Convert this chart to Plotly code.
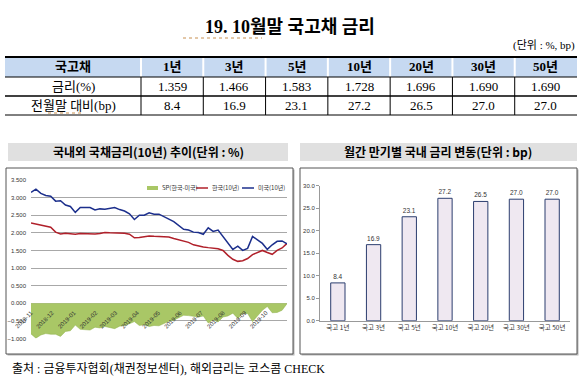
import plotly.graph_objects as go
import pandas as pd

W, H = 580, 384
def px(x): return x / W
def py(y): return 1 - y / H

SERIF = "Liberation Serif, Noto Sans CJK KR"
SANS = "Noto Sans CJK KR"

# ---------------- table data ----------------
table_head = ['국고채', '1년', '3년', '5년', '10년', '20년', '30년', '50년']
row_labels = ['금리(%)', '전월말 대비(bp)']
rates = [1.359, 1.466, 1.583, 1.728, 1.696, 1.690, 1.690]
bp_change = [8.4, 16.9, 23.1, 27.2, 26.5, 27.0, 27.0]

# ---------------- bar chart data ----------------
bar_cats = ['국고 1년', '국고 3년', '국고 5년', '국고 10년', '국고 20년', '국고 30년', '국고 50년']
bar_vals = [8.4, 16.9, 23.1, 27.2, 26.5, 27.0, 27.0]

# ---------------- line chart data (weekly) ----------------
series_names = ['SP(한국-미국)', '한국(10년)', '미국(10년)']
dates = pd.date_range('2018-11-01', periods=53, freq='7D')
us_10y = [3.15, 3.24, 3.12, 3.06, 3.04, 2.90, 2.91, 2.79, 2.75, 2.58,
          2.72, 2.73, 2.72, 2.65, 2.68, 2.67, 2.69, 2.72, 2.66, 2.62,
          2.54, 2.38, 2.50, 2.50, 2.57, 2.53, 2.53, 2.45, 2.39, 2.32,
          2.21, 2.10, 2.08, 2.02, 2.01, 1.96, 2.14, 2.04, 2.08, 1.89,
          1.72, 1.53, 1.62, 1.50, 1.56, 1.90, 1.80, 1.70, 1.53, 1.66,
          1.76, 1.77, 1.69]
kr_10y = [2.28, 2.25, 2.22, 2.20, 2.16, 2.02, 1.97, 1.99, 1.97, 1.96,
          1.98, 1.97, 1.96, 1.97, 1.98, 2.01, 2.00, 2.00, 2.01, 1.99,
          1.96, 1.86, 1.87, 1.89, 1.91, 1.90, 1.89, 1.87, 1.88, 1.84,
          1.80, 1.76, 1.73, 1.66, 1.62, 1.60, 1.58, 1.57, 1.55, 1.50,
          1.36, 1.25, 1.19, 1.21, 1.27, 1.38, 1.44, 1.50, 1.44, 1.39,
          1.50, 1.57, 1.70]
spread = [-0.87, -0.99, -0.90, -0.86, -0.88, -0.88, -0.94, -0.80, -0.78, -0.62,
          -0.74, -0.76, -0.76, -0.68, -0.70, -0.66, -0.69, -0.72, -0.65, -0.63,
          -0.58, -0.52, -0.63, -0.61, -0.66, -0.63, -0.64, -0.58, -0.51, -0.48,
          -0.41, -0.34, -0.35, -0.36, -0.39, -0.36, -0.56, -0.47, -0.53, -0.39,
          -0.36, -0.28, -0.43, -0.29, -0.29, -0.52, -0.36, -0.20, -0.09, -0.27,
          -0.26, -0.20, -0.01]
month_ticks = pd.date_range('2018-11-01', periods=12, freq='MS')
month_labels = [d.strftime('%Y-%m') for d in month_ticks]

C_SP, C_KR, C_US = '#a9c766', '#b0202a', '#1c2f8c'

fig = go.Figure()

# ---------------- left line chart ----------------
yd0, yd1 = py(338.5), py(180)
fig.add_trace(go.Scatter(x=dates, y=spread, name=series_names[0], mode='lines',
                         line=dict(color='#8fb04a', width=0.5), fill='tozeroy',
                         fillcolor=C_SP, xaxis='x', yaxis='y'))
fig.add_trace(go.Scatter(x=dates, y=kr_10y, name=series_names[1], mode='lines',
                         line=dict(color=C_KR, width=1.5), xaxis='x', yaxis='y'))
fig.add_trace(go.Scatter(x=dates, y=us_10y, name=series_names[2], mode='lines',
                         line=dict(color=C_US, width=1.5), xaxis='x', yaxis='y'))

zero_pos = yd0 + (1 / 4.5) * (yd1 - yd0)

# ---------------- right bar chart ----------------
fig.add_trace(go.Bar(x=bar_cats, y=bar_vals, width=0.4, xaxis='x2', yaxis='y2',
                     marker=dict(color='#efe8f1', line=dict(color='#2b3d6e', width=1)),
                     texttemplate='%{y:.1f}', textposition='outside',
                     textfont=dict(family="Liberation Sans", size=6.5, color='#333'),
                     cliponaxis=False, showlegend=False))

shapes = []
annotations = []

def ann(text, x, y, size, family, xanchor='center', color='black'):
    return dict(text=text, x=px(x), y=py(y), xref='paper', yref='paper',
                xanchor=xanchor, yanchor='middle', showarrow=False,
                font=dict(family=family, size=size, color=color))

def hline(y, x0, x1, color, width, dash='solid'):
    return dict(type='line', xref='paper', yref='paper', x0=px(x0), x1=px(x1),
                y0=py(y), y1=py(y), line=dict(color=color, width=width, dash=dash))

def vline(x, y0, y1, color, width):
    return dict(type='line', xref='paper', yref='paper', x0=px(x), x1=px(x),
                y0=py(y0), y1=py(y1), line=dict(color=color, width=width))

# ---------------- table (built from the table arrays) ----------------
TX0, TX1 = 5, 577
first_w = 136
col_w = (TX1 - TX0 - first_w) / len(rates)
col_edges = [TX0, TX0 + first_w] + [TX0 + first_w + col_w * (i + 1) for i in range(len(rates))]
row_edges = [57, 77, 96, 115]
centers = [(col_edges[i] + col_edges[i + 1]) / 2 for i in range(len(col_edges) - 1)]

shapes.append(dict(type='rect', xref='paper', yref='paper', layer='below',
                   x0=px(TX0), x1=px(TX1), y0=py(row_edges[0]), y1=py(row_edges[1]),
                   fillcolor='#c6d9f1', line=dict(width=0)))
for xe in col_edges[1:-1]:
    shapes.append(vline(xe, row_edges[0], row_edges[1], 'white', 2))
    shapes.append(vline(xe, row_edges[1], row_edges[3], 'black', 1))
shapes.append(hline(row_edges[0], TX0, TX1, 'black', 2))
shapes.append(hline(row_edges[1], TX0, TX1, 'black', 1))
shapes.append(hline(row_edges[2], TX0, TX1, 'black', 1.5))
shapes.append(hline(row_edges[3], TX0, TX1, 'black', 1))

hy = (row_edges[0] + row_edges[1]) / 2
for c, h in zip(centers, table_head):
    annotations.append(ann(f'<b>{h}</b>', c, hy, 13, SERIF))
r1y = (row_edges[1] + row_edges[2]) / 2
r2y = (row_edges[2] + row_edges[3]) / 2
annotations.append(ann(row_labels[0], centers[0], r1y, 13, SERIF))
annotations.append(ann(row_labels[1], centers[0], r2y, 13, SERIF))
for c, r, b in zip(centers[1:], rates, bp_change):
    annotations.append(ann(f'{r:.3f}', c, r1y, 13, SERIF))
    annotations.append(ann(f'{b:.1f}', c, r2y, 13, SERIF))

# chart boxes with shadow
for (x0, x1) in [(6, 293), (300, 577)]:
    shapes.append(dict(type='rect', xref='paper', yref='paper', layer='below',
                       x0=px(x0 + 1.5), x1=px(x1 + 1.5), y0=py(168 + 1.5), y1=py(354 + 1.5),
                       fillcolor='#b5b5b5', line=dict(width=0)))
    shapes.append(dict(type='rect', xref='paper', yref='paper', layer='below',
                       x0=px(x0), x1=px(x1), y0=py(168), y1=py(354),
                       fillcolor='white', line=dict(color='#555', width=1)))
# panel title bars
for (x0, x1) in [(8, 288), (300, 577)]:
    shapes.append(dict(type='rect', xref='paper', yref='paper', layer='below',
                       x0=px(x0), x1=px(x1), y0=py(143), y1=py(161),
                       fillcolor='#e0e0e0', line=dict(width=0)))
# spellcheck squiggles
shapes.append(hline(38, 183, 262, '#c89050', 1, 'dot'))
shapes.append(hline(113, 48, 82, '#c89050', 1, 'dot'))

# compact legend swatches
leg_y = 188
shapes.append(dict(type='rect', xref='paper', yref='paper', x0=px(147), x1=px(158),
                   y0=py(leg_y - 2), y1=py(leg_y + 2), fillcolor=C_SP, line=dict(width=0)))
shapes.append(hline(leg_y, 196, 208, C_KR, 1.5))
shapes.append(hline(leg_y, 242, 254, C_US, 1.5))
for name, xl in zip(series_names, [160, 210, 256]):
    annotations.append(ann(name, xl, leg_y, 6, SANS, xanchor='left', color='#333'))

annotations += [
    ann('<b>19. 10월말 국고채 금리</b>', 290, 27, 18, SERIF),
    ann('(단위 : %, bp)', 577, 45, 11, SERIF, xanchor='right'),
    ann('<b>국내외 국채금리(10년) 추이(단위 : %)</b>', 148, 152, 12, SANS),
    ann('<b>월간 만기별 국내 금리 변동(단위 : bp)</b>', 438, 152, 12, SANS),
    ann('출처 : 금융투자협회(채권정보센터), 해외금리는 코스콤 CHECK', 10, 369, 12, SERIF,
        xanchor='left'),
]

fig.update_layout(
    width=W, height=H, margin=dict(l=0, r=0, t=0, b=0, autoexpand=False),
    paper_bgcolor='white', plot_bgcolor='rgba(0,0,0,0)',
    shapes=shapes, annotations=annotations,
    showlegend=False,
    xaxis=dict(domain=[px(31), px(287)], anchor='free', position=zero_pos, automargin=False,
               range=[dates[0], dates[-1]], tickvals=month_ticks, ticktext=month_labels,
               tickangle=-45, tickfont=dict(family="Liberation Sans", size=6, color='#333'),
               showgrid=False, showline=False, ticks='', zeroline=False,
               ticklabelstandoff=4),
    yaxis=dict(domain=[yd0, yd1], anchor='x', range=[-1, 3.5], dtick=0.5, tickformat='.3f',
               automargin=False,
               showgrid=True, gridcolor='#a8a8a8', gridwidth=1, zeroline=False,
               tickfont=dict(family="Liberation Sans", size=6, color='#333'),
               showline=False, ticks='', ticklabelstandoff=4),
    xaxis2=dict(domain=[px(320), px(570)], anchor='y2', showline=True, linecolor='#999',
                automargin=False,
                ticks='', tickfont=dict(family=SANS, size=6.5, color='#333'), showgrid=False),
    yaxis2=dict(domain=[py(320.7), py(185.7)], anchor='x2', range=[0, 30], dtick=5,
                automargin=False,
                tickformat='.1f', showgrid=False, showline=True, linecolor='#999',
                ticks='outside', ticklen=3, tickcolor='#999', zeroline=False,
                tickfont=dict(family="Liberation Sans", size=6, color='#333')),
    bargap=0.6,
)

fig.write_html("out.html", config={'displayModeBar': False},
               post_script="document.body.style.margin='0px';")
